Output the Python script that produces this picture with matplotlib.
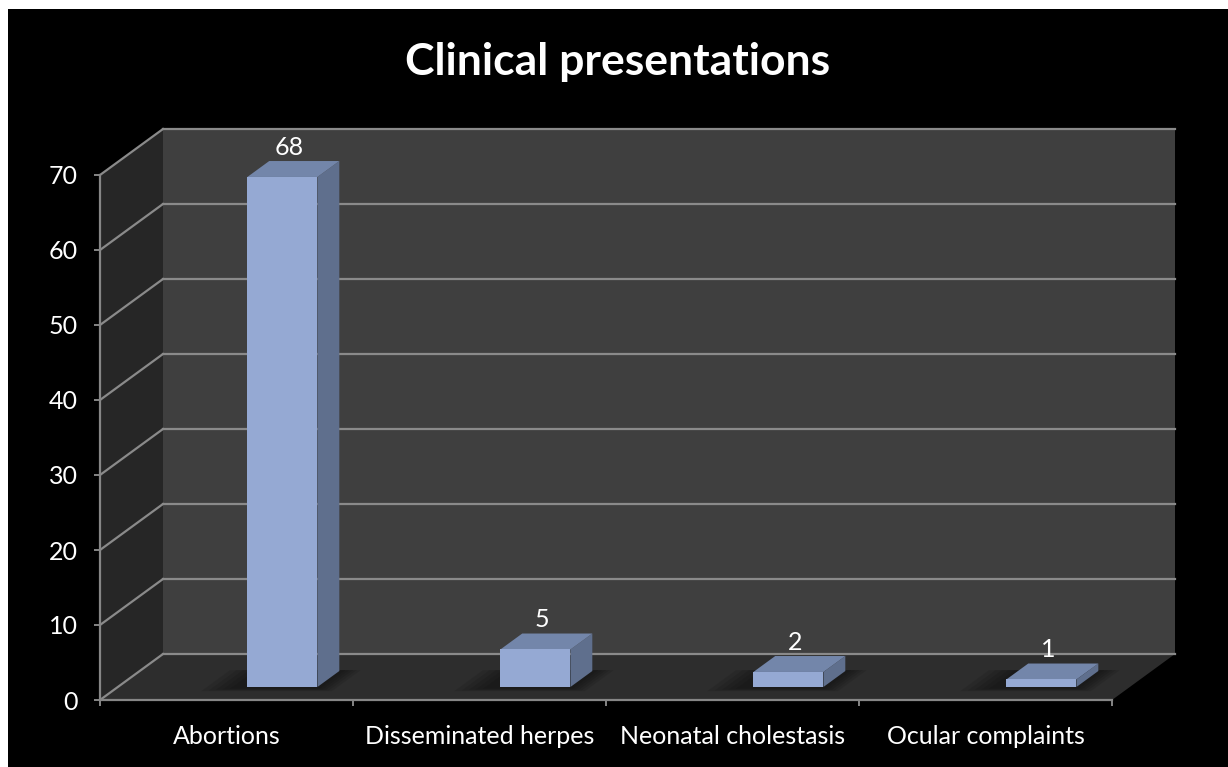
import numpy as np
import matplotlib.pyplot as plt
from matplotlib.patches import Polygon, Rectangle

categories = ['Abortions', 'Disseminated herpes', 'Neonatal cholestasis', 'Ocular complaints']
counts = [68, 5, 2, 1]
y_ticks = [0, 10, 20, 30, 40, 50, 60, 70]

plt.rcParams['font.family'] = ['Lato', 'DejaVu Sans']

W, H = 1228, 767
fig = plt.figure(figsize=(W / 100, H / 100), dpi=100)
fig.patch.set_facecolor('white')
fig.add_artist(Rectangle((8 / W, 0), 1 - 8 / W, 1 - 9 / H, transform=fig.transFigure,
                         facecolor='black', edgecolor='none', zorder=0))

# front plane of the 3d box
ax = fig.add_axes([100 / W, 67 / H, 1012 / W, 525 / H])
ax.set_xlim(0, len(categories))
ax.set_ylim(0, 70)
ax.patch.set_visible(False)

# depth offset (full depth) in data units
dx, dy = 63 / 253., 46 / 7.5


def P(x, y, d):
    return (x + d * dx, y + d * dy)


def face(pts, color, z, alpha=1.0):
    ax.add_patch(Polygon(pts, closed=True, facecolor=color, edgecolor='none',
                         alpha=alpha, clip_on=False, zorder=z))


n = len(categories)
ymax = y_ticks[-1]
# walls and floor
face([P(0, 0, 1), P(n, 0, 1), P(n, ymax, 1), P(0, ymax, 1)], '#3f3f3f', 0.5)
face([P(0, 0, 0), P(0, 0, 1), P(0, ymax, 1), P(0, ymax, 0)], '#262626', 0.6)
face([P(0, 0, 0), P(n, 0, 0), P(n, 0, 1), P(0, 0, 1)], '#2d2d2d', 0.6)

grid_col = '#8a8a8a'
for v in y_ticks:
    a, b = P(0, v, 1), P(n, v, 1)
    ax.plot([a[0], b[0]], [a[1], b[1]], color=grid_col, lw=1.6, clip_on=False, zorder=0.8)
    a, b = P(0, v, 0), P(0, v, 1)
    ax.plot([a[0], b[0]], [a[1], b[1]], color=grid_col, lw=1.6, clip_on=False, zorder=0.8)

# bars
w = 0.277
off = 0.512
d0, d1 = 0.283, 0.63
for i, v in enumerate(counts):
    x0 = i + off
    # soft shadow on the floor
    for k in range(5):
        e = 0.025 * k
        face([P(x0 - 0.06 - e, 0, d0 - 0.04 - e * 0.5), P(x0 + w + 0.02 + e * 0.6, 0, d0 - 0.04 - e * 0.5),
              P(x0 + w + 0.02 + e * 0.6, 0, d1 + 0.02), P(x0 - 0.06 - e, 0, d1 + 0.02)], 'black', 0.9, alpha=0.09)
    face([P(x0 + w, 0, d0), P(x0 + w, 0, d1), P(x0 + w, v, d1), P(x0 + w, v, d0)], '#5f6f8d', 1.0)
    face([P(x0, v, d0), P(x0 + w, v, d0), P(x0 + w, v, d1), P(x0, v, d1)], '#7386aa', 1.0)
    face([P(x0, 0, d0), P(x0 + w, 0, d0), P(x0 + w, v, d0), P(x0, v, d0)], '#95a9d3', 1.1)
    xt, _ = P(x0 + w / 2, v, 0.39)
    ax.text(xt, v + d1 * dy + 0.3, str(v), color='white', fontsize=18,
            ha='center', va='bottom', zorder=3, clip_on=False)

# axes
for s in ['top', 'right']:
    ax.spines[s].set_visible(False)
for s in ['left', 'bottom']:
    ax.spines[s].set_color('#868686')
    ax.spines[s].set_linewidth(1.6)
ax.set_yticks(y_ticks)
ax.set_xticks(range(n + 1))
ax.set_xticklabels([])
ax.set_xticks([i + 0.5 for i in range(n)], minor=True)
ax.set_xticklabels(categories, minor=True)
ax.tick_params(axis='both', which='major', direction='out', length=4, width=1.4,
               color='#868686', labelcolor='white', labelsize=18)
ax.tick_params(axis='y', pad=12)
ax.tick_params(axis='x', which='minor', length=0, pad=18, labelcolor='white', labelsize=18)

fig.text(618 / W, 1 - 75 / H, 'Clinical presentations', color='white', fontsize=32,
         fontweight='bold', ha='center', va='baseline')

fig.savefig('out.png', dpi=100, facecolor=fig.get_facecolor())
